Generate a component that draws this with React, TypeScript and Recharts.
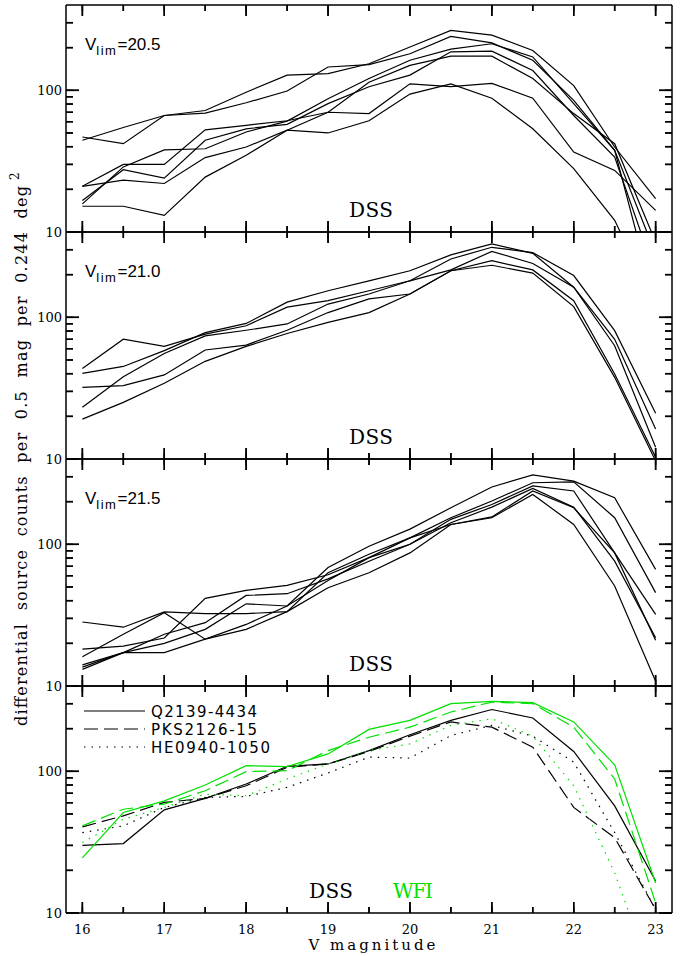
import { Line, LineChart, ReferenceDot, XAxis, YAxis } from 'recharts'

const MAGS = [16, 16.5, 17, 17.5, 18, 18.5, 19, 19.5, 20, 20.5, 21, 21.5, 22, 22.5, 23]
const Y_TICKS = [10, 20, 30, 40, 50, 60, 70, 80, 90, 100, 200, 300]

// V_lim = 20.5 fields
const P1_A = [46.8, 42, 66.4, 69, 81.7, 98.8, 146, 152, 181, 240, 216, 163, 85, 37.7, 3]
const P1_B = [44.4, 54.6, 66.4, 72, 97, 128, 131, 154, 202, 265, 245, 191, 108, 39.8, 17.2]
const P1_C = [21, 30, 30, 52.6, 56.6, 61, 70, 68.5, 111, 106, 112, 88, 36.7, 27.2, 14.2]
const P1_D = [21, 23.2, 22, 33.5, 39.8, 52.3, 50, 61, 94, 111, 88, 53.5, 28, 12.1, 3]
const P1_E = [16.7, 27.5, 24, 44.4, 53.5, 57.5, 80.5, 106, 128, 187, 189, 138, 66.4, 33.8, 5]
const P1_F = [15.8, 28.8, 38, 38.7, 50.8, 60.6, 87.2, 121, 163, 195, 213, 172, 80.5, 37.7, 7]
const P1_G = [15.2, 15.2, 13.1, 24.4, 34.8, 52.3, 70, 114, 150, 174, 174, 121, 68.5, 42, 8.5]

// V_lim = 21.0 fields
const P2_A = [43.6, 70, 62.3, 76, 87.2, 118, 131, 154, 181, 258, 312, 286, 197, 80.5, 21]
const P2_B = [40.2, 45, 58.2, 78, 90.5, 128, 154, 181, 213, 276, 330, 283, 163, 70, 16.3]
const P2_C = [23.2, 38, 55.5, 74, 81, 89.8, 124, 146, 181, 216, 292, 240, 163, 63, 12.1]
const P2_D = [32, 33, 39.2, 58.8, 63.7, 81, 108, 135, 146, 213, 251, 216, 131, 39.8, 10.3]
const P2_E = [19.1, 25.1, 34.2, 48.9, 62.3, 76.9, 92, 108, 146, 213, 233, 205, 119, 37.7, 9.7]

// V_lim = 21.5 fields
const P3_A = [28.3, 26, 33.3, 32.4, 32.4, 33.5, 63, 85, 111, 154, 202, 272, 276, 154, 45.6]
const P3_B = [16.1, 23.2, 32.9, 21.4, 27.2, 36.7, 68.5, 97, 128, 181, 254, 309, 279, 213, 66.5]
const P3_C = [18.2, 19.1, 21.8, 41.5, 47.3, 51.3, 61, 80.5, 100, 150, 191, 258, 238, 87, 32]
const P3_D = [13.6, 17.2, 23.2, 28, 43.6, 44.8, 57, 76, 100, 142, 183, 248, 183, 76, 21.9]
const P3_E = [14.1, 17.2, 20, 25.1, 38, 36.7, 55.6, 80.5, 111, 138, 156, 238, 181, 87, 21]
const P3_F = [13.1, 17.2, 17.2, 21.4, 25.1, 33.5, 49.4, 63, 87, 138, 154, 225, 138, 50.8, 10.8]

// comparison fields, DSS vs WFI
const Q2139_DSS = [30, 30.9, 53.5, 64.4, 81.3, 108.5, 112.7, 140, 181, 229, 273, 238, 138, 57, 16.8]
const PKS2126_DSS = [40.5, 48.5, 60.3, 64.4, 79.1, 106.7, 112.7, 138, 177, 223, 205, 148, 55.6, 34, 10.6]
const HE0940_DSS = [36.9, 41.2, 55.6, 65.4, 66.5, 77, 97.3, 126, 124, 179, 211, 177, 116, 36.9, 10.6]
const Q2139_WFI = [24.5, 51.2, 61.9, 80, 109.7, 108, 132.7, 197.5, 229, 300, 312, 305, 223, 111, 16.3]
const PKS2126_WFI = [41.2, 54, 58.7, 72.9, 99.5, 101, 140, 174, 205, 262, 308, 300, 205, 88.3, 11.8]
const HE0940_WFI = [31.4, 45.9, 55.6, 69, 67.2, 88.3, 112.7, 140, 156, 211, 235, 177, 79, 19.2, 3]

const LEGEND_NAMES = ['Q2139-4434', 'PKS2126-15', 'HE0940-1050']
const LIM_LABELS = ['20.5', '21.0', '21.5']

const X_MIN = 15.8
const X_MAX = 23.2
const Y_MIN = 10
const Y_MAX = 400

const GREEN = '#00e000'
const DASH = '14 6'
const DOT = '1.5 6'
const PANEL_TOPS = [5, 232, 459, 686]
const PLOT_H = 227
const PAD = 20
const SERIF = 'DejaVu Serif'

const X_MINOR = 6
const X_MAJOR = 11
const Y_MINOR = 7
const Y_MAJOR = 13
const TICK_W = 1.5

interface LineSpec {
  stroke: string
  dash?: string
}

const toRows = (series: number[][]) =>
  MAGS.map((m, i) => {
    const row: Record<string, number> = { m }
    series.forEach((s, k) => {
      row['s' + k] = s[i]
    })
    return row
  })

const isMajorY = (v: number) => v === 10 || v === 100
const TICK_LINE = { stroke: '#000', strokeWidth: TICK_W }
const AXIS_LINE = { stroke: '#000', strokeWidth: 1.5 }

// inward tick marks placed through the chart's own scales (cx/cy from ReferenceDot)
const vTick = (len: number) => (props: any) => (
  <line x1={props.cx} x2={props.cx} y1={props.cy} y2={props.cy + len} stroke="#000" strokeWidth={TICK_W} />
)
const hTick = (len: number) => (props: any) => (
  <line x1={props.cx} x2={props.cx + len} y1={props.cy} y2={props.cy} stroke="#000" strokeWidth={TICK_W} />
)

const xTickBottom = (showLabel: boolean) => (props: any) => {
  const { x, y, payload } = props
  const v = payload.value
  const base = y + X_MINOR
  const major = Number.isInteger(v)
  return (
    <g>
      {major && <line x1={x} x2={x} y1={base} y2={base - X_MAJOR} stroke="#000" strokeWidth={TICK_W} />}
      {showLabel && major && (
        <text x={x} y={base + 21} textAnchor="middle" fontFamily={SERIF} fontSize={13} fill="#000">
          {v}
        </text>
      )}
    </g>
  )
}

const xTickTop = (props: any) => {
  const { x, y, payload } = props
  const base = y - X_MINOR
  if (!Number.isInteger(payload.value)) return <g />
  return <line x1={x} x2={x} y1={base} y2={base + X_MAJOR} stroke="#000" strokeWidth={TICK_W} />
}

const yTickLeft = (props: any) => {
  const { x, y, payload } = props
  const v = payload.value
  const base = x - Y_MINOR
  if (!isMajorY(v)) return <g />
  return (
    <g>
      <line x1={base} x2={base + Y_MAJOR} y1={y} y2={y} stroke="#000" strokeWidth={TICK_W} />
      <text x={base - 4} y={y} dy="0.36em" textAnchor="end" fontFamily={SERIF} fontSize={13} fill="#000">
        {v}
      </text>
    </g>
  )
}

const yTickRight = (props: any) => {
  const { x, y, payload } = props
  const base = x + Y_MINOR
  if (!isMajorY(payload.value)) return <g />
  return <line x1={base} x2={base - Y_MAJOR} y1={y} y2={y} stroke="#000" strokeWidth={TICK_W} />
}

interface PanelProps {
  top: number
  series: number[][]
  specs: LineSpec[]
  showXLabels?: boolean
}

const Panel = ({ top, series, specs, showXLabels = false }: PanelProps) => {
  const bottomPad = showXLabels ? 45 : PAD
  const data = toRows(series)
  return (
    <div style={{ position: 'absolute', left: 0, top: top - PAD }}>
      <LineChart
        width={681}
        height={PLOT_H + PAD + bottomPad}
        data={data}
        margin={{ top: 0, right: 0, bottom: 0, left: 0 }}
      >
        <XAxis
          dataKey="m"
          type="number"
          domain={[X_MIN, X_MAX]}
          ticks={MAGS}
          interval={0}
          height={bottomPad}
          tickSize={-X_MINOR}
          tickMargin={0}
          tickLine={TICK_LINE}
          axisLine={AXIS_LINE}
          tick={xTickBottom(showXLabels)}
        />
        <XAxis
          xAxisId="t"
          orientation="top"
          dataKey="m"
          type="number"
          domain={[X_MIN, X_MAX]}
          ticks={MAGS}
          interval={0}
          height={PAD}
          tickSize={-X_MINOR}
          tickMargin={0}
          tickLine={TICK_LINE}
          axisLine={AXIS_LINE}
          tick={xTickTop}
        />
        <YAxis
          scale="log"
          domain={[Y_MIN, Y_MAX]}
          ticks={Y_TICKS}
          interval={0}
          allowDataOverflow
          width={66}
          tickSize={-Y_MINOR}
          tickMargin={0}
          tickLine={TICK_LINE}
          axisLine={AXIS_LINE}
          tick={yTickLeft}
        />
        <YAxis
          yAxisId="r"
          orientation="right"
          scale="log"
          domain={[Y_MIN, Y_MAX]}
          ticks={Y_TICKS}
          interval={0}
          allowDataOverflow
          width={9}
          tickSize={-Y_MINOR}
          tickMargin={0}
          tickLine={TICK_LINE}
          axisLine={AXIS_LINE}
          tick={yTickRight}
        />
        {MAGS.map((m) => (
          <ReferenceDot
            key={'b' + m}
            x={m}
            y={Y_MIN}
            ifOverflow="visible"
            shape={vTick(Number.isInteger(m) ? -X_MAJOR : -X_MINOR)}
          />
        ))}
        {MAGS.map((m) => (
          <ReferenceDot
            key={'t' + m}
            x={m}
            y={Y_MAX}
            ifOverflow="visible"
            shape={vTick(Number.isInteger(m) ? X_MAJOR : X_MINOR)}
          />
        ))}
        {Y_TICKS.map((v) => (
          <ReferenceDot
            key={'l' + v}
            x={X_MIN}
            y={v}
            ifOverflow="visible"
            shape={hTick(isMajorY(v) ? Y_MAJOR : Y_MINOR)}
          />
        ))}
        {Y_TICKS.map((v) => (
          <ReferenceDot
            key={'r' + v}
            x={X_MAX}
            y={v}
            ifOverflow="visible"
            shape={hTick(isMajorY(v) ? -Y_MAJOR : -Y_MINOR)}
          />
        ))}
        {specs.map((spec, k) => (
          <Line
            key={k}
            dataKey={'s' + k}
            type="linear"
            stroke={spec.stroke}
            strokeWidth={1.2}
            strokeDasharray={spec.dash}
            dot={false}
            activeDot={false}
            isAnimationActive={false}
          />
        ))}
      </LineChart>
    </div>
  )
}

const black = (n: number): LineSpec[] => Array.from({ length: n }, () => ({ stroke: '#000' }))

const COMPARE_SPECS: LineSpec[] = [
  { stroke: '#000' },
  { stroke: '#000', dash: DASH },
  { stroke: '#000', dash: DOT },
  { stroke: GREEN },
  { stroke: GREEN, dash: DASH },
  { stroke: GREEN, dash: DOT },
]

const LEGEND_DASH = [undefined, DASH, DOT]

const App = () => {
  return (
    <div style={{ position: 'absolute', left: 0, top: 0, width: 681, height: 956 }}>
      <Panel top={PANEL_TOPS[0]} series={[P1_A, P1_B, P1_C, P1_D, P1_E, P1_F, P1_G]} specs={black(7)} />
      <Panel top={PANEL_TOPS[1]} series={[P2_A, P2_B, P2_C, P2_D, P2_E]} specs={black(5)} />
      <Panel top={PANEL_TOPS[2]} series={[P3_A, P3_B, P3_C, P3_D, P3_E, P3_F]} specs={black(6)} />
      <Panel
        top={PANEL_TOPS[3]}
        series={[Q2139_DSS, PKS2126_DSS, HE0940_DSS, Q2139_WFI, PKS2126_WFI, HE0940_WFI]}
        specs={COMPARE_SPECS}
        showXLabels
      />

      <svg width={681} height={956} style={{ position: 'absolute', left: 0, top: 0, pointerEvents: 'none' }}>
        {LIM_LABELS.map((lab, i) => (
          <text key={lab} x={85} y={PANEL_TOPS[i] + 45} fontFamily="Liberation Sans" fontSize={17} fill="#000">
            V
            <tspan fontSize={13} dy={5} letterSpacing={1.5}>
              lim
            </tspan>
            <tspan fontSize={17} dy={-5}>
              ={lab}
            </tspan>
          </text>
        ))}
        {[0, 1, 2].map((i) => (
          <text
            key={i}
            x={371}
            y={PANEL_TOPS[i] + PLOT_H - 15}
            textAnchor="middle"
            fontFamily={SERIF}
            fontSize={20}
            textLength={44}
            fill="#000"
          >
            DSS
          </text>
        ))}
        <text x={331} y={PANEL_TOPS[3] + PLOT_H - 15} textAnchor="middle" fontFamily={SERIF} fontSize={20} textLength={44} fill="#000">
          DSS
        </text>
        <text x={413} y={PANEL_TOPS[3] + PLOT_H - 15} textAnchor="middle" fontFamily={SERIF} fontSize={20} textLength={40} fill={GREEN}>
          WFI
        </text>

        {LEGEND_NAMES.map((name, i) => {
          const y = 711 + i * 18
          return (
            <g key={name}>
              <line x1={84} x2={145} y1={y} y2={y} stroke="#000" strokeWidth={1.2} strokeDasharray={LEGEND_DASH[i]} />
              <text
                x={151}
                y={y + 5.5}
                fontFamily="DejaVu Sans"
                fontSize={15}
                textLength={i === 2 ? 119 : 106}
                fill="#000"
              >
                {name}
              </text>
            </g>
          )
        })}

        <text x={372} y={950} textAnchor="middle" fontFamily={SERIF} fontSize={15} textLength={127} fill="#000">
          V magnitude
        </text>

        <g transform="translate(27, 726) rotate(-90)">
          <text
            x={0}
            y={0}
            fontFamily={SERIF}
            fontSize={16}
            textLength={540}
            lengthAdjust="spacing"
            fill="#000"
            style={{ whiteSpace: 'pre' }}
          >
            {'differential  source  counts  per  0.5  mag  per  0.244  deg'}
          </text>
          <text x={546} y={-8} fontFamily={SERIF} fontSize={12} fill="#000">
            2
          </text>
        </g>
      </svg>
    </div>
  )
}

export default App
